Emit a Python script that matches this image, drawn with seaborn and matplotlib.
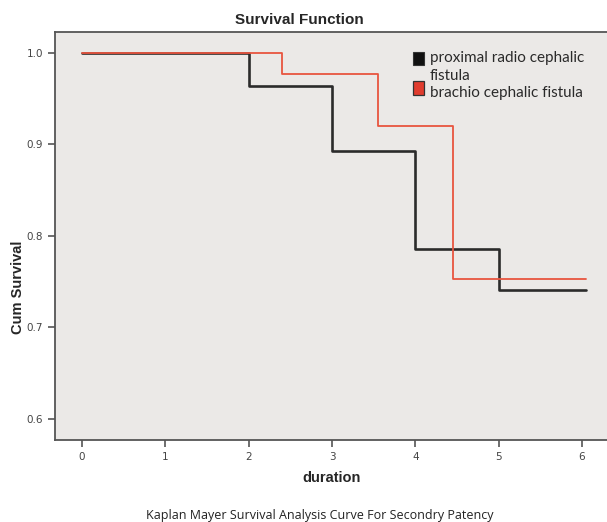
import pandas as pd
import matplotlib.pyplot as plt
import seaborn as sns
from matplotlib.patches import Rectangle

# Datos
tiempo_prox = [0, 2, 3, 4, 5, 6.05]
surv_prox = [1.0, 0.964, 0.893, 0.786, 0.741, 0.741]
tiempo_brach = [0, 2.4, 3.55, 4.45, 6.05]
surv_brach = [1.0, 0.977, 0.920, 0.753, 0.753]
grupos = ['proximal radio cephalic fistula', 'brachio cephalic fistula']
colores = ['#2b2b2b', '#e8553f']

df = pd.concat([
    pd.DataFrame({'duration': tiempo_prox, 'surv': surv_prox, 'grupo': grupos[0]}),
    pd.DataFrame({'duration': tiempo_brach, 'surv': surv_brach, 'grupo': grupos[1]}),
])

sns.set_style('ticks')
fig = plt.figure(figsize=(6.07, 5.22), dpi=100)
ax = fig.add_axes([0.0906, 0.157, 0.915, 0.782])
ax.set_facecolor('#ebe9e7')

sns.lineplot(data=df[df.grupo == grupos[0]], x='duration', y='surv', color=colores[0],
             drawstyle='steps-post', linewidth=1.9, ax=ax, legend=False, zorder=2)
sns.lineplot(data=df[df.grupo == grupos[1]], x='duration', y='surv', color=colores[1],
             drawstyle='steps-post', linewidth=1.3, ax=ax, legend=False, zorder=3)

ax.set_xlim(-0.324, 6.34)
ax.set_ylim(0.577, 1.023)
ax.set_xticks(range(0, 7))
ax.set_yticks([0.6, 0.7, 0.8, 0.9, 1.0])
ax.set_yticklabels(['0.6', '0.7', '0.8', '0.9', '1.0'])
ax.tick_params(axis='both', direction='out', length=5, width=1.2, labelsize=7.5,
               labelcolor='#444444', color='#555555')
for s in ['left', 'bottom', 'top']:
    ax.spines[s].set_color('#555555')
    ax.spines[s].set_linewidth(1.3)
ax.spines['right'].set_visible(False)
ax.set_xlabel('')
ax.set_ylabel('')

fig.text(0.494, 0.962, 'Survival Function', ha='center', va='center',
         fontsize=11, fontweight='bold', family='Liberation Sans')
fig.text(0.547, 0.085, 'duration', ha='center', va='center',
         fontsize=10.5, fontweight='bold', family='Liberation Sans')
fig.text(0.03, 0.45, 'Cum Survival', ha='center', va='center', rotation=90,
         fontsize=10.5, fontweight='bold', family='Liberation Sans')
fig.text(0.527, 0.013, 'Kaplan Mayer Survival Analysis Curve For Secondry Patency',
         ha='center', va='center', fontsize=9, family='Open Sans', color='#222222')

# leyenda a mano (la primera etiqueta ocupa dos lineas, el cuadro va en la primera)
ley = dict(transform=ax.transAxes, family='Lato', fontsize=11, color='#2a2a2a',
           va='baseline', ha='left')
ax.add_patch(Rectangle((0.645, 0.918), 0.0185, 0.032, transform=ax.transAxes,
                       facecolor='#111111', edgecolor='#333333', lw=0.8, zorder=5))
ax.add_patch(Rectangle((0.645, 0.845), 0.0185, 0.035, transform=ax.transAxes,
                       facecolor='#e03c2e', edgecolor='#333333', lw=0.9, zorder=5))
ax.text(0.675, 0.927, 'proximal radio cephalic', **ley)
ax.text(0.675, 0.883, 'fistula', **ley)
ax.text(0.675, 0.840, grupos[1], **ley)

plt.savefig('out.png', dpi=100)
